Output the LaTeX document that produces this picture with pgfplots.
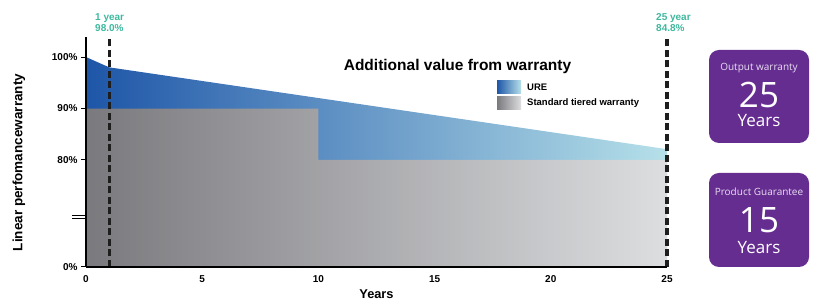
\documentclass[border=0pt]{standalone}
\usepackage{pgfplots}
\pgfplotsset{compat=1.18}
\usepackage{fontspec}
\setmainfont{Liberation Sans}
\newfontfamily\boxfont{Open Sans}
\definecolor{blueL}{RGB}{30,86,168}
\definecolor{blueM}{RGB}{100,140,200}
\definecolor{blueR}{RGB}{182,224,233}
\definecolor{grayL}{RGB}{122,122,126}
\definecolor{grayR}{RGB}{221,222,224}
\definecolor{purpleC}{RGB}{102,45,145}
\definecolor{tealC}{RGB}{62,184,158}
\definecolor{lavC}{RGB}{232,222,242}
\definecolor{dashC}{RGB}{30,30,30}
\begin{document}
\begin{tikzpicture}
\path[use as bounding box] (0pt,0pt) rectangle (830pt,299pt);
\begin{axis}[
  at={(86pt,32pt)}, anchor=south west,
  scale only axis, width=581pt, height=230pt,
  xmin=0, xmax=25, ymin=59.2, ymax=103.9,
  axis x line*=bottom, axis y line*=left,
  x axis line style={line width=2pt, -},
  y axis line style={line width=1.6pt, -},
  xtick={0,5,10,15,20,25},
  ytick={59.2,80,90,100},
  yticklabels={0\%,80\%,90\%,100\%},
  major x tick style={draw=none},
  tick align=outside, major tick length=5pt,
  y tick style={line width=1pt, black},
  ticklabel style={font=\bfseries\fontsize{10}{12}\selectfont},
  /pgf/number format/assume math mode=true,
  axis on top, clip=false,
]
\addplot[draw=none, left color=blueL, middle color=blueM, right color=blueR]
  coordinates {(0,59.2) (0,100) (1,98) (25,82.1) (25,59.2)} -- cycle;
\addplot[draw=none, left color=grayL, right color=grayR]
  coordinates {(0,59.2) (0,90) (10,90) (10,80) (25,80) (25,59.2)} -- cycle;
\addplot[dashC, line width=3.2pt, dash pattern=on 7pt off 3.5pt]
  coordinates {(1,59.2) (1,103.9)};
\addplot[dashC, line width=3.2pt, dash pattern=on 7pt off 3.5pt]
  coordinates {(25,59.2) (25,103.9)};
\draw[line width=0.8pt] ([xshift=-14pt]axis cs:0,69.3) -- (axis cs:0,69.3);
\draw[line width=0.8pt] ([xshift=-14pt]axis cs:0,68.65) -- (axis cs:0,68.65);
\end{axis}
% titles and labels
\node[anchor=base, font=\bfseries\fontsize{15.5}{18}\selectfont, inner sep=0pt] at (457.5pt,228pt) {Additional value from warranty};
\node[rotate=90, font=\bfseries\fontsize{13.5}{15}\selectfont, inner sep=0pt] at (19pt,136.5pt) {Linear perfomancewarranty};
\node[anchor=base, font=\bfseries\fontsize{12.8}{15}\selectfont, inner sep=0pt] at (376.5pt,0.3pt) {Years};
% legend
\shade[left color=blueL, right color=blueR] (497pt,205pt) rectangle (521pt,218pt);
\shade[left color=grayL, right color=grayR] (497pt,189pt) rectangle (521pt,202pt);
\node[anchor=base west, font=\bfseries\fontsize{9.5}{11}\selectfont, inner sep=0pt] at (527pt,208pt) {URE};
\node[anchor=base west, font=\bfseries\fontsize{9.5}{11}\selectfont, inner sep=0pt] at (527pt,193pt) {Standard tiered warranty};
% annotations
\node[anchor=base west, font=\bfseries\fontsize{10}{12}\selectfont, text=tealC, inner sep=0pt] at (95pt,278pt) {1 year};
\node[anchor=base west, font=\bfseries\fontsize{10}{12}\selectfont, text=tealC, inner sep=0pt] at (95pt,267pt) {98.0\%};
\node[anchor=base west, font=\bfseries\fontsize{10}{12}\selectfont, text=tealC, inner sep=0pt] at (656pt,278pt) {25 year};
\node[anchor=base west, font=\bfseries\fontsize{10}{12}\selectfont, text=tealC, inner sep=0pt] at (656pt,267pt) {84.8\%};
% boxes
\fill[purpleC, rounded corners=10pt] (709pt,156pt) rectangle (809pt,249pt);
\fill[purpleC, rounded corners=10pt] (709pt,32pt) rectangle (809pt,126pt);
\node[anchor=base, font=\boxfont\fontsize{10}{12}\selectfont, text=lavC, inner sep=0pt] at (759pt,228.5pt) {Output warranty};
\node[anchor=base, font=\boxfont\fontsize{35}{38}\selectfont, text=white, inner sep=0pt] at (759pt,191pt) {25};
\node[anchor=base, font=\boxfont\fontsize{17}{20}\selectfont, text=white, inner sep=0pt] at (759pt,172.5pt) {Years};
\node[anchor=base, font=\boxfont\fontsize{10}{12}\selectfont, text=lavC, inner sep=0pt] at (759pt,103.5pt) {Product Guarantee};
\node[anchor=base, font=\boxfont\fontsize{35}{38}\selectfont, text=white, inner sep=0pt] at (759pt,66pt) {15};
\node[anchor=base, font=\boxfont\fontsize{17}{20}\selectfont, text=white, inner sep=0pt] at (759pt,45.5pt) {Years};
\end{tikzpicture}
\end{document}
